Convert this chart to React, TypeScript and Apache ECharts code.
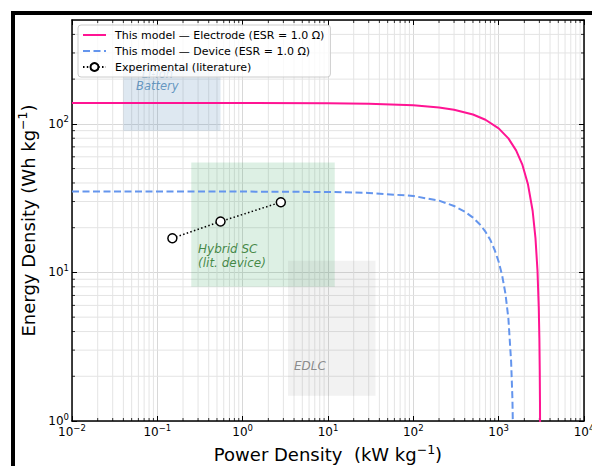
import React, { useEffect, useRef } from 'react';
import * as echarts from 'echarts';

const FONT = 'DejaVu Sans';

// Model curves: power density (kW/kg) -> energy density (Wh/kg)
const electrodeP = [0.01, 1, 10, 30, 100, 200, 300, 500, 700, 1000, 1300, 1600, 1900, 2200, 2500, 2700, 2850, 2950, 3000, 3030, 3050, 3070];
const electrodeE = [138.0, 138.0, 137.6, 136.7, 133.5, 129.0, 124.6, 115.6, 106.6, 93.2, 79.8, 66.3, 52.9, 39.4, 26.0, 17.0, 10.3, 5.8, 3.6, 2.2, 1.34, 0.45];
const deviceP = [0.01, 1, 10, 30, 100, 200, 300, 400, 500, 600, 700, 800, 900, 1000, 1100, 1200, 1300, 1400, 1450, 1480, 1505];
const deviceE = [35.0, 35.0, 34.8, 34.3, 32.7, 30.4, 28.0, 25.7, 23.4, 21.1, 18.8, 16.5, 14.1, 11.8, 9.5, 7.2, 4.9, 2.5, 1.4, 0.7, 0.1];
const expP = [0.15, 0.55, 2.8];
const expE = [17.0, 22.0, 29.7];

// Region boxes [pMin, pMax, eMin, eMax]
const batteryBox = [0.04, 0.55, 90, 250];
const hybridBox = [0.25, 12, 8, 55];
const edlcBox = [3.4, 36, 1.48, 12];

// Annotation texts
const labelTexts = ['Li-ion\nBattery', 'Hybrid SC\n(lit. device)', 'EDLC'];
const labelP = [0.1, 0.3, 4.0];
const labelE = [197.5, 12.9, 2.34];

const seriesNames = [
  'This model — Electrode (ESR = 1.0 Ω)',
  'This model — Device (ESR = 1.0 Ω)',
  'Experimental (literature)',
];

const X_MIN = 0.01, X_MAX = 10000, Y_MIN = 1, Y_MAX = 500;
const xMinor: number[] = [];
for (let k = -2; k < 4; k++) for (let m = 2; m <= 9; m++) xMinor.push(m * Math.pow(10, k));
const yMinor: number[] = [];
for (let k = 0; k < 3; k++) for (let m = 2; m <= 9; m++) { const v = m * Math.pow(10, k); if (v < Y_MAX) yMinor.push(v); }

const zip = (a: number[], b: number[]) => a.map((v, i) => [v, b[i]]);

const powLabel = (v: number) => {
  const e = Math.round(Math.log10(v));
  if (Math.abs(v - Math.pow(10, e)) > 1e-6 * v) return '';
  return `{b|10}{s|${e < 0 ? '\u2212' : ''}${Math.abs(e)}}`;
};
const tickRich = {
  b: { fontSize: 12, fontFamily: FONT, color: '#000' },
  s: { fontSize: 8.5, fontFamily: FONT, color: '#000', padding: [0, 0, 9, 0] },
};
const nameRich = {
  a: { fontSize: 18, fontFamily: FONT, color: '#000' },
  s: { fontSize: 12.5, fontFamily: FONT, color: '#000', padding: [0, 0, 11, 0] },
};

export default function App() {
  const ref = useRef<HTMLDivElement>(null);
  useEffect(() => {
    if (!ref.current) return;
    const chart = echarts.init(ref.current, undefined, { renderer: 'svg' });
    const box = (b: number[], color: string) => [
      { coord: [b[0], b[2]], itemStyle: { color } },
      { coord: [b[1], b[3]] },
    ];
    const labelStyles = [
      { color: '#4682b4', align: 'center', fontSize: 11.5, lineHeight: 12.5 },
      { color: '#1a6e1a', align: 'left', fontSize: 12, lineHeight: 13.5 },
      { color: '#707070', align: 'left', fontSize: 12, lineHeight: 13.5 },
    ];
    const axisBase = {
      type: 'log', logBase: 10, interval: 1,
      axisLine: { show: true, onZero: false, lineStyle: { color: '#000', width: 1.5 } },
      axisTick: { show: true, inside: true, length: 5, lineStyle: { color: '#000', width: 1 } },
    };
    const option: any = {
      animation: false,
      backgroundColor: '#fff',
      textStyle: { fontFamily: FONT },
      grid: { left: 72, top: 20, right: 8, bottom: 45, containLabel: false, outerBoundsMode: 'none' },
      legend: {
        data: [
          { name: seriesNames[0], itemStyle: { opacity: 0 } },
          { name: seriesNames[1], itemStyle: { opacity: 0 } },
          { name: seriesNames[2] },
        ],
        orient: 'vertical',
        left: 78,
        top: 25,
        padding: [4, 6, 4, 4],
        itemGap: 4,
        itemWidth: 23,
        itemHeight: 10,
        backgroundColor: 'rgba(255,255,255,0.78)',
        borderColor: '#cccccc',
        borderWidth: 1,
        borderRadius: 3,
        textStyle: { fontFamily: FONT, fontSize: 11, color: '#000', lineHeight: 12, padding: [0, 0, 0, 4] },
        z: 10,
      },
      xAxis: [
        {
          ...axisBase, min: X_MIN, max: X_MAX, position: 'bottom',
          axisLabel: { formatter: powLabel, rich: tickRich, margin: 2, showMaxLabel: true, showMinLabel: true, hideOverlap: false },
          splitLine: { show: true, lineStyle: { color: '#d8d8d8', width: 1 } },
          name: '{a|Power Density  (kW kg}{s|\u22121}{a|)}',
          nameLocation: 'middle',
          nameGap: 18,
          nameTextStyle: { rich: nameRich },
        },
        {
          ...axisBase, min: X_MIN, max: X_MAX, position: 'top',
          axisLabel: { show: false },
          splitLine: { show: false },
        },
      ],
      yAxis: [
        {
          ...axisBase, min: Y_MIN, max: Y_MAX, position: 'left',
          axisLabel: { formatter: powLabel, rich: tickRich, margin: 3, showMaxLabel: false, hideOverlap: false },
          splitLine: { show: true, lineStyle: { color: '#d8d8d8', width: 1 } },
          name: '{a|Energy Density (Wh kg}{s|\u22121}{a|)}',
          nameLocation: 'middle',
          nameGap: 29,
          nameTextStyle: { rich: nameRich },
        },
        {
          ...axisBase, min: Y_MIN, max: Y_MAX, position: 'right',
          axisLabel: { show: false },
          splitLine: { show: false },
        },
      ],
      series: [
        {
          type: 'custom',
          name: 'xminor',
          silent: true,
          z: 0,
          data: xMinor.map((v) => [v, Y_MIN]),
          renderItem: (_p: any, api: any) => {
            const v = api.value(0);
            const b = api.coord([v, Y_MIN]);
            const t = api.coord([v, Y_MAX]);
            return {
              type: 'group',
              children: [
                { type: 'line', shape: { x1: b[0], y1: b[1], x2: t[0], y2: t[1] }, style: { stroke: '#e4e4e4', lineWidth: 1 } },
                { type: 'line', shape: { x1: b[0], y1: b[1], x2: b[0], y2: b[1] - 3 }, style: { stroke: '#000', lineWidth: 0.8 } },
                { type: 'line', shape: { x1: t[0], y1: t[1], x2: t[0], y2: t[1] + 3 }, style: { stroke: '#000', lineWidth: 0.8 } },
              ],
            };
          },
        },
        {
          type: 'custom',
          name: 'yminor',
          silent: true,
          z: 0,
          data: yMinor.map((v) => [X_MIN, v]),
          renderItem: (_p: any, api: any) => {
            const v = api.value(1);
            const l = api.coord([X_MIN, v]);
            const r = api.coord([X_MAX, v]);
            return {
              type: 'group',
              children: [
                { type: 'line', shape: { x1: l[0], y1: l[1], x2: r[0], y2: r[1] }, style: { stroke: '#e4e4e4', lineWidth: 1 } },
                { type: 'line', shape: { x1: l[0], y1: l[1], x2: l[0] + 3, y2: l[1] }, style: { stroke: '#000', lineWidth: 0.8 } },
                { type: 'line', shape: { x1: r[0], y1: r[1], x2: r[0] - 3, y2: r[1] }, style: { stroke: '#000', lineWidth: 0.8 } },
              ],
            };
          },
        },
        {
          type: 'scatter',
          name: 'annotations',
          silent: true,
          z: 1,
          symbolSize: 0,
          data: labelTexts.map((t, i) => ({
            name: t,
            value: [labelP[i], labelE[i]],
            label: {
              show: true,
              position: 'inside',
              formatter: t,
              fontStyle: 'italic',
              fontFamily: FONT,
              verticalAlign: 'middle',
              ...labelStyles[i],
            },
          })),
          markArea: {
            silent: true,
            label: { show: false },
            data: [
              box(batteryBox, 'rgba(70,130,180,0.18)'),
              box(hybridBox, 'rgba(46,160,90,0.16)'),
              box(edlcBox, 'rgba(128,128,128,0.1)'),
            ],
          },
        },
        {
          type: 'line',
          name: seriesNames[0],
          z: 3,
          data: zip(electrodeP, electrodeE),
          symbol: 'none',
          lineStyle: { color: '#ff1493', width: 2 },
          itemStyle: { color: '#ff1493' },
          clip: true,
        },
        {
          type: 'line',
          name: seriesNames[1],
          z: 3,
          data: zip(deviceP, deviceE),
          symbol: 'none',
          lineStyle: { color: '#6495ed', width: 2, type: [7, 3.5] },
          itemStyle: { color: '#6495ed' },
          clip: true,
        },
        {
          type: 'line',
          name: seriesNames[2],
          z: 4,
          data: zip(expP, expE),
          symbol: 'circle',
          symbolSize: 9,
          lineStyle: { color: '#000', width: 1.5, type: [1.5, 2.3] },
          itemStyle: { color: '#fff', borderColor: '#000', borderWidth: 1.5 },
        },
      ],
      graphic: [
        {
          type: 'rect',
          z: 100,
          silent: true,
          shape: { x: 13, y: 13, width: 700, height: 700 },
          style: { fill: 'none', stroke: '#000', lineWidth: 4 },
        },
      ],
    };
    chart.setOption(option);
    return () => chart.dispose();
  }, []);
  return (
    <div
      ref={ref}
      style={{ position: 'fixed', left: 0, top: 0, width: 592, height: 466, background: '#fff' }}
    />
  );
}
